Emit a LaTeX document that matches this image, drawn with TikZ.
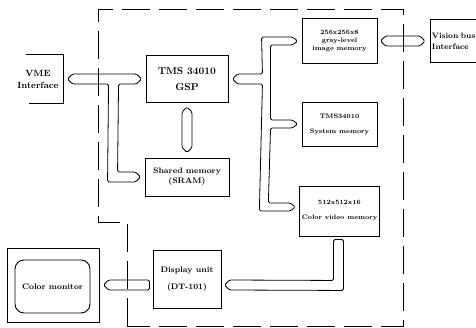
\documentclass[tikz,border=0pt]{standalone}
\usepackage{tikz}
\usetikzlibrary{calc}
\tikzstyle{blk}=[rectangle,draw=black,line width=0.9pt,align=center,
  font=\bfseries\fontsize{8}{10}\selectfont,inner sep=2pt]
\tikzstyle{mem}=[rectangle,draw=black,line width=0.9pt,align=center,
  font=\bfseries\fontsize{6.5}{8}\selectfont,minimum width=75pt,inner sep=2pt]
\tikzstyle{bus}=[draw=black,line width=0.8pt,rounded corners=1.5pt]
\tikzstyle{border}=[draw=black,line width=0.9pt,dash pattern=on 28pt off 9pt]

\begin{document}
\begin{tikzpicture}[x=1pt,y=-1pt]
        \useasboundingbox (0,0) rectangle (476,328);
        \clip (0,0) rectangle (476,328);
        % boxes
        \node [style=blk,draw=none,font=\bfseries\fontsize{9}{12}\selectfont,
          minimum width=50pt,minimum height=48pt] (vme) at (38,79) {VME\\Interface};
        \node [style=blk,font=\bfseries\fontsize{10}{13}\selectfont,
          minimum width=82pt,minimum height=47pt] (gsp) at (187,79) {TMS 34010\\[3pt]GSP};
        \node [style=blk,minimum width=84pt,minimum height=38pt] (sram) at (187,177) {Shared memory\\(SRAM)};
        \node [style=mem,minimum height=45pt] (gray) at (339.5,41) {256x256x8\\gray-level\\image memory};
        \node [style=mem,minimum height=44pt] (sysmem) at (339.5,124) {TMS34010\\[7pt]System memory};
        \node [style=mem,minimum height=50pt] (video) at (339.5,211) {512x512x16\\[7pt]Color video memory};
        \node [style=blk,minimum width=68pt,minimum height=58pt] (disp) at (187,279) {Display unit\\[7pt](DT-101)};
        \node [style=blk,minimum width=92pt,minimum height=74pt] (mon) at (53,285) {};
        \node [style=blk,rounded corners=9pt,minimum width=75pt,minimum height=53pt] (scr) at (52.5,286.5) {Color monitor};
        \node [style=blk,draw=none,anchor=west,align=left,text width=60pt,inner sep=1.5pt,
          font=\bfseries\fontsize{7.8}{11}\selectfont,minimum height=43pt] (vis) at (430,41) {Vision bus\\Interface};
        % open box edges
        \draw [line width=0.9pt] ($(vme.north west)+(13,0)$) -- (vme.north east) -- (vme.south east) -- ($(vme.south west)+(16,0)$);
        \draw [line width=0.9pt] (vis.north east) -- (vis.north west) -- (vis.south west) -- (vis.south east);
        % board outline
        \draw [style=border] (127,326) -- (127,222) -- (98,222) -- (98,9) -- (403,9) -- (403,326) -- cycle;
        % buses
        \draw [style=bus] ($(vme.east)+(4,0)$) -- ($(vme.east)+(9,-5)$) -- ($(gsp.west)+(-9,-5)$)
          -- ($(gsp.west)+(-4,0)$) -- ($(gsp.west)+(-9,5)$) -- ($(gsp.west)+(-27,5)$)
          -- ($(sram.west)+(-27,-5)$) -- ($(sram.west)+(-9,-5)$) -- ($(sram.west)+(-4,0)$)
          -- ($(sram.west)+(-9,5)$) -- ($(sram.west)+(-37,5)$) -- ($(gsp.west)+(-37,5)$)
          -- ($(vme.east)+(9,5)$) -- cycle;
        \draw [style=bus] ($(gsp.east)+(4,0)$) -- ($(gsp.east)+(9,-5)$) -- ($(gsp.east)+(34,-5)$)
          -- ($(gray.west)+(-40,-4)$) -- ($(gray.west)+(-9,-4)$) -- ($(gray.west)+(-4,0)$)
          -- ($(gray.west)+(-9,4)$) -- ($(gray.west)+(-31,4)$)
          -- ($(sysmem.west)+(-31,-4)$) -- ($(sysmem.west)+(-9,-4)$) -- ($(sysmem.west)+(-4,0)$)
          -- ($(sysmem.west)+(-9,4)$) -- ($(sysmem.west)+(-31,4)$)
          -- ($(video.west)+(-31,-8)$) -- ($(video.west)+(-9,-8)$) -- ($(video.west)+(-4,-4)$)
          -- ($(video.west)+(-9,0)$) -- ($(video.west)+(-40,0)$)
          -- ($(gsp.east)+(34,5)$) -- ($(gsp.east)+(9,5)$) -- cycle;
        \draw [style=bus] ($(gsp.south)+(0,4)$) -- ($(gsp.south)+(5,9)$) -- ($(sram.north)+(5,-10)$)
          -- ($(sram.north)+(0,-5)$) -- ($(sram.north)+(-5,-10)$) -- ($(gsp.south)+(-5,9)$) -- cycle;
        \draw [style=bus] ($(gray.east)+(3,0)$) -- ($(gray.east)+(8,-5)$) -- ($(vis.west)+(-10,-5)$)
          -- ($(vis.west)+(-5,0)$) -- ($(vis.west)+(-10,5)$) -- ($(gray.east)+(8,5)$) -- cycle;
        \draw [style=bus] ($(video.south)+(-6,3)$) -- ($(video.south)+(4,3)$) -- ($(video.south)+(4,54)$)
          -- ($(disp.east)+(8,11)$) -- ($(disp.east)+(3,6)$) -- ($(disp.east)+(8,1)$)
          -- ($(video.south)+(-6,44)$) -- cycle;
        \draw [style=bus] ($(disp.west)+(-3,1)$) -- ($(disp.west)+(-3,11)$) -- ($(mon.east)+(9,5)$)
          -- ($(mon.east)+(4,0)$) -- ($(mon.east)+(9,-5)$) -- cycle;
    \end{tikzpicture}
\end{document}
